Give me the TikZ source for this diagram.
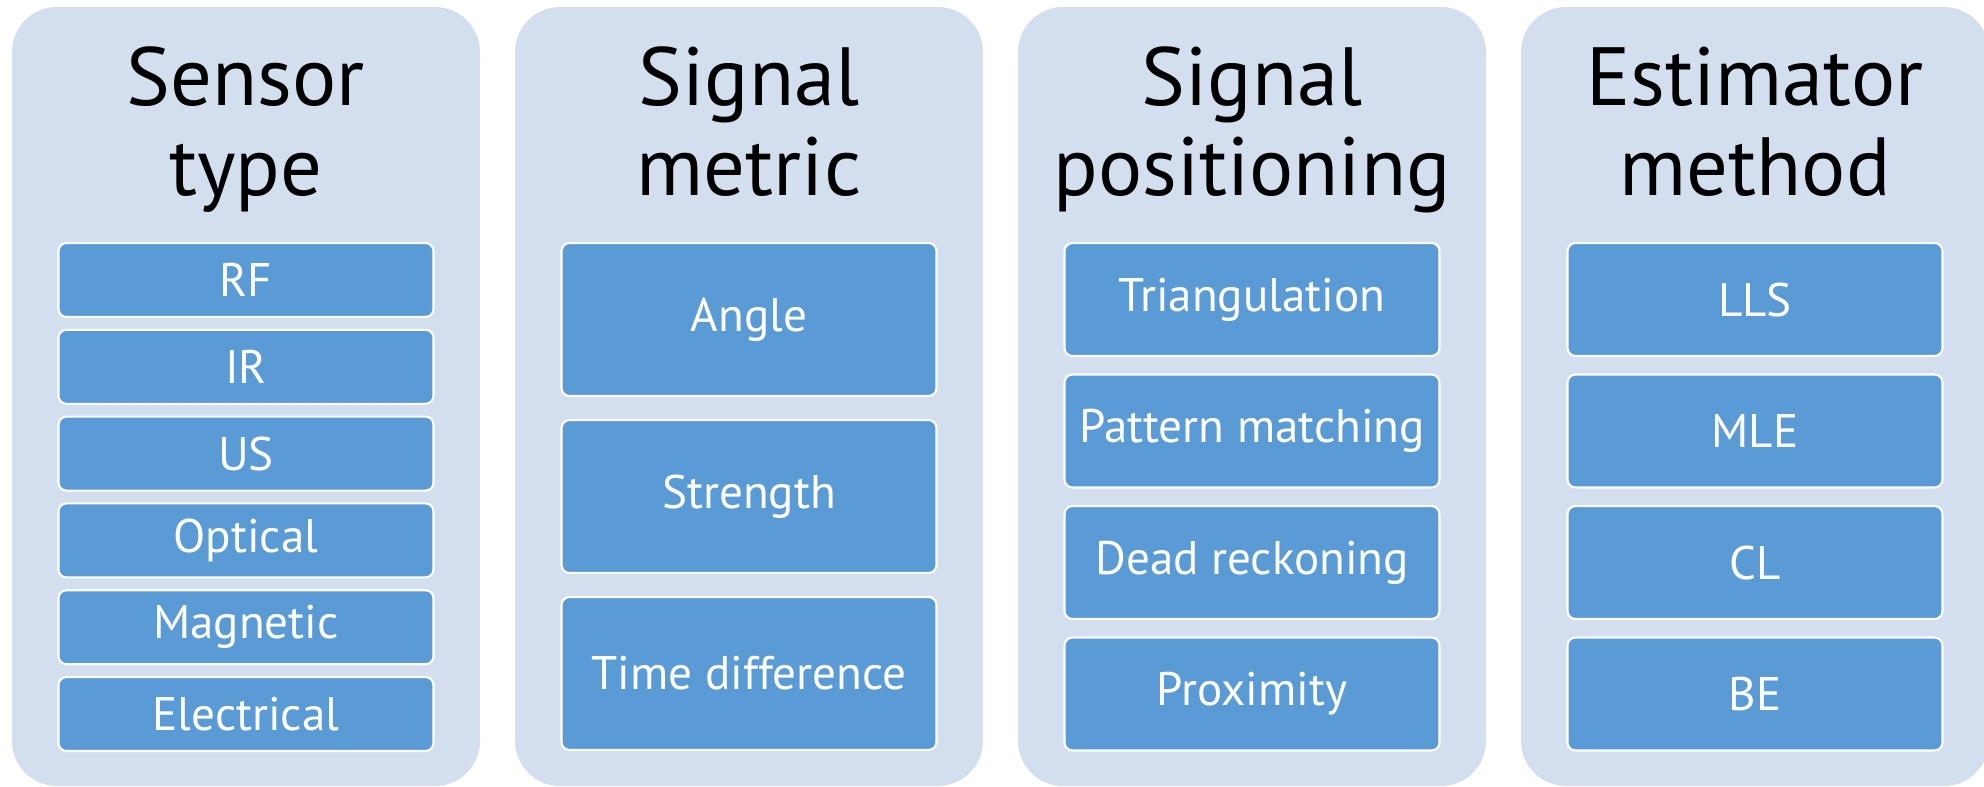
\documentclass[tikz,border=0pt]{standalone}
\usepackage{fontspec}
\setmainfont{PT Sans}
\definecolor{panelblue}{HTML}{D3DEEF}
\definecolor{boxblue}{HTML}{5B9BD5}

\tikzset{
  panel/.style={fill=panelblue, rounded corners=4.5mm, minimum width=46.8mm,
    minimum height=77.9mm, inner sep=0pt, outer sep=0pt},
  title/.style={align=center, anchor=base, font=\fontsize{23.5}{25.6}\selectfont},
  item/.style={draw=white, line width=0.6pt, fill=boxblue, rounded corners=0.8mm,
    minimum width=37.5mm, inner sep=0pt, outer sep=0pt, text=white,
    font=\fontsize{13.4}{16}\selectfont},
  short/.style={item, minimum height=7.4mm},
  tall/.style={item, minimum height=15.3mm},
  mid/.style={item, minimum height=11.3mm}
}

\begin{document}
\begin{tikzpicture}[x=0.1mm, y=-0.1mm]
  \useasboundingbox (0,0) rectangle (1984,786);

  % Sensor type
  \node[panel] (p1) at (246,396.5) {};
  \node[title] (t1) at (246,195) {Sensor\\type};
  \node[short] (rf) at (246,280) {RF};
  \node[short] (ir) at (246,366.8) {IR};
  \node[short] (us) at (246,453.6) {US};
  \node[short] (optical) at (246,540.4) {Optical};
  \node[short] (magnetic) at (246,627.2) {Magnetic};
  \node[short] (electrical) at (246,714) {Electrical};

  % Signal metric
  \node[panel] (p2) at (749,396.5) {};
  \node[title] (t2) at (749,195) {Signal\\metric};
  \node[tall] (angle) at (749,319.5) {Angle};
  \node[tall] (strength) at (749,496.5) {Strength};
  \node[tall] (timediff) at (749,673.5) {Time difference};

  % Signal positioning
  \node[panel] (p3) at (1252,396.5) {};
  \node[title] (t3) at (1252,195) {Signal\\positioning};
  \node[mid] (tri) at (1252,299.5) {Triangulation};
  \node[mid] (pattern) at (1252,431) {Pattern matching};
  \node[mid] (dead) at (1252,562.5) {Dead reckoning};
  \node[mid] (prox) at (1252,694) {Proximity};

  % Estimator method
  \node[panel] (p4) at (1755,396.5) {};
  \node[title] (t4) at (1755,195) {Estimator\\method};
  \node[mid] (lls) at (1755,299.5) {LLS};
  \node[mid] (mle) at (1755,431) {MLE};
  \node[mid] (cl) at (1755,562.5) {CL};
  \node[mid] (be) at (1755,694) {BE};
\end{tikzpicture}
\end{document}
